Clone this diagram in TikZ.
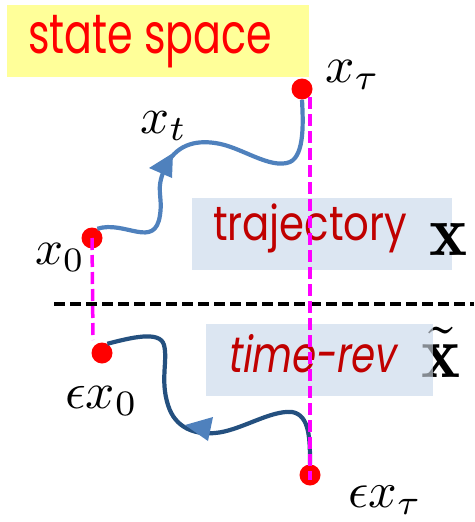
\documentclass[tikz,border=0pt]{standalone}
\usepackage{fontspec}
\usepackage{graphicx}
\newfontfamily\hand{Poppins}
\newfontfamily\handit[FakeSlant=0.2]{Poppins}
\definecolor{yelbox}{HTML}{FFFF99}
\definecolor{bluebox}{HTML}{DCE6F2}
\definecolor{darkred}{HTML}{C00000}
\definecolor{curveA}{HTML}{4F81BD}
\definecolor{curveB}{HTML}{24507F}
\definecolor{mag}{HTML}{FF00FF}
\tikzset{
  dot/.style={circle,fill=red,inner sep=0pt,minimum size=21pt},
  lbl/.style={inner sep=0pt,anchor=base west},
  pathA/.style={draw=curveA,line width=4.2pt},
  pathB/.style={draw=curveB,line width=4.2pt},
  magline/.style={draw=mag,line width=3.5pt,dash pattern=on 12pt off 5pt},
  blkline/.style={draw=black,line width=3.5pt,dash pattern=on 11pt off 5pt},
  headA/.style={fill=curveA,draw=none}
}
\begin{document}
\begin{tikzpicture}[x=1pt,y=-1pt]
\useasboundingbox (0,0) rectangle (474,522);
% boxes and titles
\fill[yelbox] (7,5) rectangle (309,77);
\node[lbl,text=red] (title) at (28,53) {\resizebox{244pt}{!}{\scalebox{1}[1.35]{\hand state space}}};
\fill[bluebox] (192,198) rectangle (452,270);
\node[lbl,text=darkred] (traj) at (213,240) {\resizebox{194pt}{!}{\scalebox{1}[1.2]{\hand trajectory}}};
\node[lbl] (bx) at (429,255) {\resizebox{38pt}{!}{$\mathbf{x}$}};
\fill[bluebox] (206,324) rectangle (433,396);
\node[lbl] (tx) at (421,377) {\resizebox{39pt}{!}{$\tilde{\mathbf{x}}$}};
\fill[bluebox,opacity=0.6] (206,324) rectangle (433,396);
\node[lbl,text=darkred] (trev) at (227,372) {\resizebox{168pt}{!}{\scalebox{1}[1.3]{\handit time-rev}}};
% separator
\coordinate (sepL) at (54,304);
\coordinate (sepR) at (474,304);
\draw[blkline] (sepL) -- (sepR);
% points
\node[dot] (d0) at (92,238) {};
\node[dot] (d1) at (302,89) {};
\node[dot] (e0) at (102,353) {};
\node[dot] (e1) at (310,475) {};
% labels
\node[lbl] (lx0) at (35,264) {\resizebox{50pt}{!}{$x_0$}};
\node[lbl] (lxt) at (140,133) {\resizebox{47pt}{!}{$x_t$}};
\node[lbl] (lxtau) at (325,82) {\resizebox{55pt}{!}{$x_\tau$}};
\node[lbl] (lex0) at (65,408) {\resizebox{73pt}{!}{$\epsilon x_0$}};
\node[lbl] (lextau) at (348,507) {\resizebox{74pt}{!}{$\epsilon x_\tau$}};
% trajectories
\draw[pathA] (d0.60) .. controls (125,220) and (155,250) .. (160,215)
  .. controls (163,195) and (155,190) .. (165,168)
  .. controls (175,145) and (195,140) .. (215,143)
  .. controls (240,146) and (270,170) .. (290,162)
  .. controls (305,155) and (303,120) .. (d1.south);
\draw[pathB] (e0.60) .. controls (130,338) and (160,330) .. (164,345)
  .. controls (168,360) and (160,380) .. (168,405)
  .. controls (175,428) and (195,435) .. (215,433)
  .. controls (240,431) and (270,410) .. (292,412)
  .. controls (310,415) and (310,440) .. (e1.north);
% links
\coordinate (m1top) at (310,97);
\coordinate (m1bot) at (310,480);
\coordinate (m2bot) at (93,340);
\draw[magline] (m1top) -- (m1bot);
\draw[magline] (d0.center) -- (m2bot);
% arrow heads
\fill[headA] (149,168) -- (173,153) -- (172,178) -- cycle;
\fill[headA] (185,425) -- (213,417) -- (208,441) -- cycle;
\end{tikzpicture}
\end{document}
